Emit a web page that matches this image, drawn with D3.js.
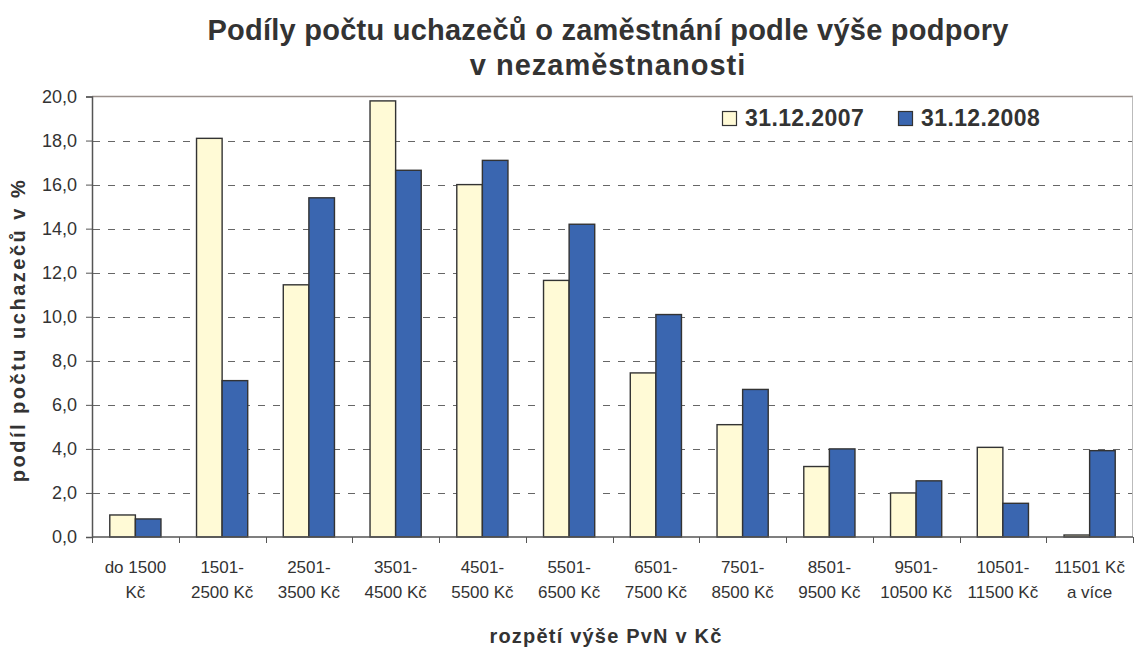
<!DOCTYPE html>
<html>
<head>
<meta charset="utf-8">
<script src="https://cdnjs.cloudflare.com/ajax/libs/d3/7.8.5/d3.min.js"></script>
<style>
  body { margin: 0; background: #fff; }
  svg text { font-family: "Liberation Sans", Arial, sans-serif; fill: #333; }
</style>
</head>
<body>
<div id="chart"></div>
<script>
// data
var categories = [
  ["do 1500", "Kč"], ["1501-", "2500 Kč"], ["2501-", "3500 Kč"], ["3501-", "4500 Kč"],
  ["4501-", "5500 Kč"], ["5501-", "6500 Kč"], ["6501-", "7500 Kč"], ["7501-", "8500 Kč"],
  ["8501-", "9500 Kč"], ["9501-", "10500 Kč"], ["10501-", "11500 Kč"], ["11501 Kč", "a více"]
];
var seriesNames = ["31.12.2007", "31.12.2008"];
var seriesColors = ["#FFFAD6", "#3A66B0"];
var values2007 = [1.0, 18.1, 11.45, 19.8, 16.0, 11.65, 7.45, 5.1, 3.2, 2.0, 4.07, 0.09];
var values2008 = [0.82, 7.1, 15.4, 16.65, 17.1, 14.2, 10.1, 6.7, 4.0, 2.55, 1.53, 3.92];
var yTicks = [0, 2, 4, 6, 8, 10, 12, 14, 16, 18, 20];

var W = 1134, H = 647;
var svg = d3.select("#chart").append("svg").attr("width", W).attr("height", H);

var pLeft = 92, pRight = 1133, pTop = 96.5, pBottom = 537;

var x0 = d3.scaleBand().domain(d3.range(categories.length)).range([pLeft, pRight]).padding(0);
var step = x0.step();
var x1 = d3.scaleBand().domain([0, 1]).range([step * 0.205, step * 0.795]).padding(0);
var y = d3.scaleLinear().domain([0, 20]).range([pBottom, pTop]);

// gridlines
svg.append("g").selectAll("line").data(yTicks.slice(1, -1)).enter().append("line")
  .attr("x1", pLeft + 1).attr("x2", pRight)
  .attr("y1", function (d) { return Math.round(y(d)) + 0.5; })
  .attr("y2", function (d) { return Math.round(y(d)) + 0.5; })
  .attr("stroke", "#666").attr("stroke-width", 1).attr("stroke-dasharray", "7,8");

// plot border top / right
svg.append("line").attr("x1", pLeft).attr("x2", pRight).attr("y1", pTop).attr("y2", pTop)
  .attr("stroke", "#9a918c").attr("stroke-width", 1.5);
svg.append("line").attr("x1", pRight - 0.5).attr("x2", pRight - 0.5).attr("y1", pTop).attr("y2", pBottom)
  .attr("stroke", "#bbb").attr("stroke-width", 1);

// bars
var allValues = [values2007, values2008];
allValues.forEach(function (vals, s) {
  svg.append("g").selectAll("rect").data(vals).enter().append("rect")
    .attr("x", function (d, i) { return x0(i) + x1(s); })
    .attr("width", x1.bandwidth())
    .attr("y", function (d) { return y(d); })
    .attr("height", function (d) { return pBottom - y(d); })
    .attr("fill", seriesColors[s])
    .attr("stroke", "#333").attr("stroke-width", 1.4);
});

// y axis
var yAxis = d3.axisLeft(y).tickValues(yTicks).tickSize(6).tickPadding(9)
  .tickFormat(function (d) { return d3.format(".1f")(d).replace(".", ","); });
var gy = svg.append("g").attr("transform", "translate(" + pLeft + ",0)").call(yAxis);
gy.select(".domain").attr("stroke", "#555").attr("stroke-width", 1.5);
gy.selectAll(".tick line").attr("stroke", "#555");
gy.selectAll(".tick text").style("font-size", "18px").style("font-family", "Liberation Sans, Arial, sans-serif").attr("fill", "#333");

// x axis
var gx = svg.append("g").attr("transform", "translate(0," + pBottom + ")");
gx.append("line").attr("x1", pLeft).attr("x2", pRight).attr("stroke", "#555").attr("stroke-width", 1.5);
gx.selectAll(".tk").data(d3.range(categories.length + 1)).enter().append("line")
  .attr("x1", function (i) { return Math.round(pLeft + i * step) + 0.5; })
  .attr("x2", function (i) { return Math.round(pLeft + i * step) + 0.5; })
  .attr("y1", 0).attr("y2", 6).attr("stroke", "#555");
var lbl = gx.selectAll(".lbl").data(categories).enter().append("text")
  .attr("text-anchor", "middle").style("font-size", "17px");
lbl.append("tspan").attr("x", function (d, i) { return x0(i) + step / 2; }).attr("y", 36)
  .text(function (d) { return d[0]; });
lbl.append("tspan").attr("x", function (d, i) { return x0(i) + step / 2; }).attr("y", 61)
  .text(function (d) { return d[1]; });

// titles
svg.append("text").attr("x", 608).attr("y", 40).attr("text-anchor", "middle")
  .style("font-size", "29px").style("font-weight", "bold").style("letter-spacing", "0.25px")
  .text("Podíly počtu uchazečů o zaměstnání podle výše podpory");
svg.append("text").attr("x", 608).attr("y", 75).attr("text-anchor", "middle")
  .style("font-size", "29px").style("font-weight", "bold").style("letter-spacing", "1px")
  .text("v nezaměstnanosti");

svg.append("text").attr("x", 606).attr("y", 643).attr("text-anchor", "middle")
  .style("font-size", "20px").style("font-weight", "bold").style("letter-spacing", "1.2px")
  .text("rozpětí výše PvN v Kč");

svg.append("text").attr("transform", "translate(25,330) rotate(-90)").attr("text-anchor", "middle")
  .style("font-size", "20px").style("font-weight", "bold").style("letter-spacing", "2.5px")
  .text("podíl počtu uchazečů v %");

// legend
var legX = [722, 898];
seriesNames.forEach(function (name, s) {
  svg.append("rect").attr("x", legX[s] + 0.5).attr("y", 111.5).attr("width", 14).attr("height", 14)
    .attr("fill", seriesColors[s]).attr("stroke", "#333").attr("stroke-width", 1.2);
  svg.append("text").attr("x", legX[s] + 23).attr("y", 126)
    .style("font-size", "23px").style("font-weight", "bold").style("letter-spacing", "0.4px").text(name);
});
</script>
</body>
</html>
